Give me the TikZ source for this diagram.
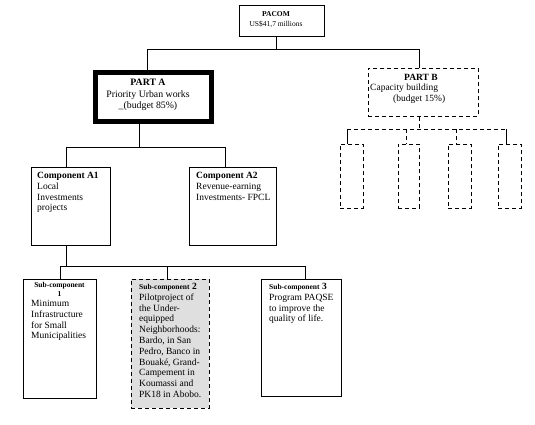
\documentclass[tikz,border=0pt]{standalone}
\usepackage{fontspec}
\setmainfont{Liberation Serif}
\begin{document}
\begin{tikzpicture}[x=1pt,y=-1pt,
  box/.style={draw, line width=0.8pt, anchor=north west, inner sep=0pt},
  dbox/.style={box, dash pattern=on 4pt off 3pt},
  txt/.style={anchor=north west, inner sep=0pt, align=left, font=\fontsize{9.5}{10.8}\selectfont},
  conn/.style={line width=0.8pt},
  dconn/.style={line width=0.8pt, dash pattern=on 4pt off 3pt},
]
\useasboundingbox (0,0) rectangle (535,425);

% boxes
\node[box, minimum width=85pt, minimum height=31pt] (pacom) at (239,5) {};
\node[box, line width=5pt, minimum width=116pt, minimum height=49pt] (partA) at (93,70) {};
\node[dbox, minimum width=110pt, minimum height=48pt] (partB) at (368,68) {};
\node[box, minimum width=79pt, minimum height=78pt] (a1) at (31,167) {};
\node[box, minimum width=87pt, minimum height=78pt] (a2) at (189,167) {};
\node[dbox, minimum width=23pt, minimum height=64pt] (b1) at (340,144) {};
\node[dbox, minimum width=21pt, minimum height=64pt] (b2) at (398,144) {};
\node[dbox, minimum width=23pt, minimum height=64pt] (b3) at (448,144) {};
\node[dbox, minimum width=23pt, minimum height=64pt] (b4) at (498,144) {};
\node[box, minimum width=73pt, minimum height=119pt] (s1) at (23,279) {};
\node[dbox, fill=gray!25, minimum width=78pt, minimum height=129pt] (s2) at (131,279) {};
\node[box, minimum width=80pt, minimum height=117pt] (s3) at (261,279) {};

% texts
\node[inner sep=0pt, align=center, font=\fontsize{7.5}{10}\selectfont] (tpacom) at (276,20)
  {\textbf{PACOM}\\US\$41,7 millions};
\node[inner sep=0pt, align=center, font=\fontsize{9.8}{11.8}\selectfont] (tpartA) at (148,95)
  {\textbf{PART A}\\Priority Urban works\\\_(budget 85\%)};
\node[txt, font=\fontsize{9.5}{10.5}\selectfont] (tpartB) at (370,74)
  {\hspace*{34pt}\textbf{PART B}\\Capacity building\\\hspace*{23pt}(budget 15\%)};
\node[txt] (ta1) at (37,172) {\textbf{Component A1}\\Local\\Investments\\projects};
\node[txt] (ta2) at (196,172) {\textbf{Component A2}\\Revenue-earning\\Investments- FPCL};
\node[inner sep=0pt, align=center, font=\fontsize{7.5}{9}\selectfont\bfseries, anchor=north] (ts1h) at (59.5,282)
  {Sub-component\\1};
\node[txt] (ts1) at (31,300) {Minimum\\Infrastructure\\for Small\\Municipalities};
\node[txt] (ts2) at (139,283) {{\fontsize{7.5}{8}\selectfont\bfseries Sub-component} \textbf{2}\\Pilotproject of\\the Under-\\equipped\\Neighborhoods:\\Bardo, in San\\Pedro, Banco in\\Bouaké, Grand-\\Campement in\\Koumassi and\\PK18 in Abobo.};
\node[txt] (ts3) at (269,283) {{\fontsize{7.5}{8}\selectfont\bfseries Sub-component} \textbf{3}\\Program PAQSE\\to improve the\\quality of life.};

% connectors: top level
\coordinate (jT) at (276,49);
\coordinate (jA) at (147,49);
\coordinate (jB) at (419,49);
\draw[conn] (pacom.south -| jT) -- (jT);
\draw[conn] (partA.north -| jA) -- (jA) -- (jB) -- (partB.north -| jB);

% PART A to components
\coordinate (kA) at (139,147);
\coordinate (k1) at (66,147);
\coordinate (k2) at (225,147);
\draw[conn] (partA.south -| kA) -- (kA);
\draw[conn] (a1.north -| k1) -- (k1) -- (k2) -- (a2.north -| k2);

% A1 to sub-components
\coordinate (mA) at (66,266);
\coordinate (m1) at (60,266);
\coordinate (m2) at (167,266);
\coordinate (m3) at (305,266);
\draw[conn] (a1.south -| mA) -- (mA);
\draw[conn] (s1.north -| m1) -- (m1) -- (m3) -- (s3.north -| m3);
\draw[conn] (m2) -- (s2.north -| m2);

% PART B to its boxes
\coordinate (nB) at (419,129);
\coordinate (n1) at (347,129);
\coordinate (n2) at (406,129);
\coordinate (n3) at (456,129);
\coordinate (n4) at (506,129);
\draw[dconn] (partB.south -| nB) -- (nB);
\draw[dconn] (n1) -- (n4);
\draw[conn] (n1) -- (b1.north -| n1);
\draw[dconn] (n2) -- (b2.north -| n2);
\draw[dconn] (n3) -- (b3.north -| n3);
\draw[conn] (n4) -- (b4.north -| n4);
\end{tikzpicture}
\end{document}
